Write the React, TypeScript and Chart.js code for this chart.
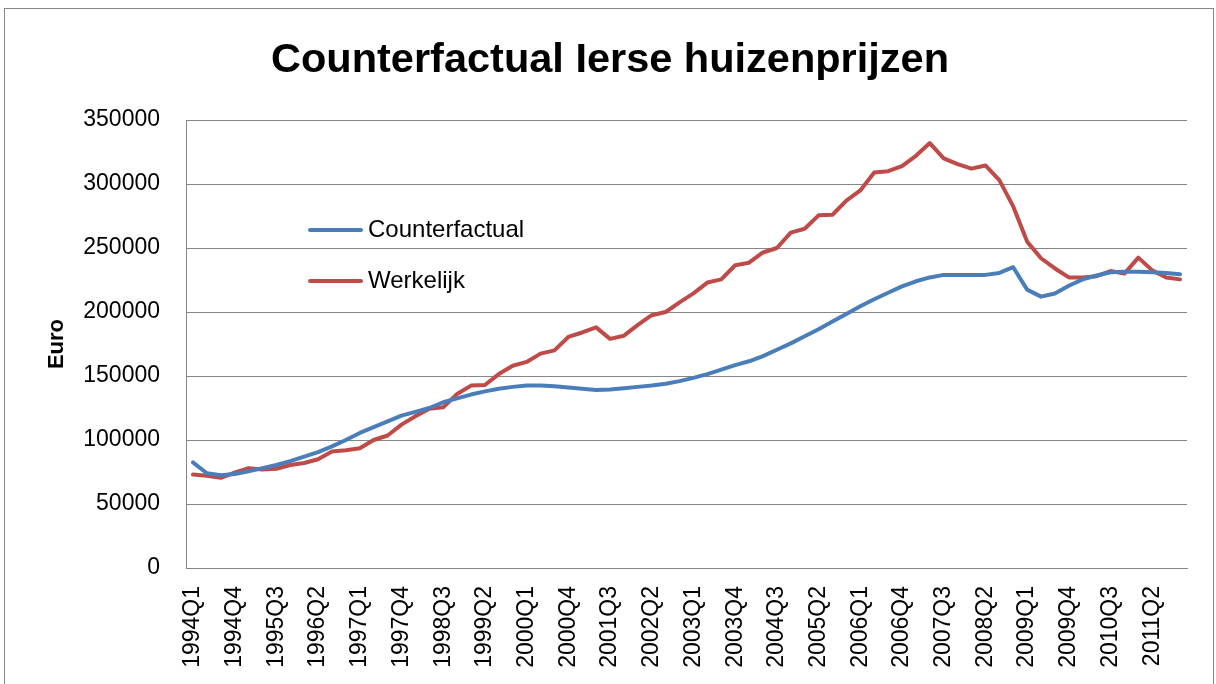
import React, { useEffect, useRef } from "react";
import { Chart, registerables } from "chart.js";

Chart.register(...registerables);

const years = [1994, 1995, 1996, 1997, 1998, 1999, 2000, 2001, 2002, 2003, 2004, 2005, 2006, 2007, 2008, 2009, 2010, 2011];
const quarterNames = ["Q1", "Q2", "Q3", "Q4"];
const categories: string[] = [];
for (const y of years) for (const q of quarterNames) categories.push(`${y}${q}`);

const counterfactual = [
  82500, 74000, 72500, 73500, 75500, 78000, 80500, 83500, 87000, 90500,
  95000, 100000, 105500, 110000, 114500, 119000, 122000, 125000, 129500, 132500,
  135500, 138000, 140000, 141500, 142500, 142500, 142000, 141000, 140000, 139000,
  139500, 140500, 141500, 142500, 144000, 146000, 148500, 151500, 155000, 158500,
  161500, 165500, 170500, 175500, 181000, 186500, 192500, 198500, 204500, 210000,
  215000, 220000, 224000, 227000, 229000, 229000, 229000, 229000, 230500, 235000,
  217500, 212000, 214500, 220500, 225500, 228500, 231000, 231500, 231500, 231000,
  230500, 229500,
];

const werkelijk = [
  73000, 72000, 70500, 74500, 78000, 77000, 77500, 80500, 82000, 85000,
  91000, 92000, 93500, 100000, 103500, 112000, 118500, 124500, 125500, 136000,
  142500, 143000, 151500, 158000, 161000, 167500, 170000, 180500, 184000, 188000,
  179000, 181500, 190000, 197500, 200000, 207500, 214500, 223000, 225500, 236500,
  238500, 246500, 250000, 262000, 265000, 275500, 276000, 287000, 295000, 309000,
  310000, 314000, 322000, 332000, 320000, 315500, 312000, 314500, 303000, 282500,
  255000, 242000, 234000, 227000, 227000, 228000, 232000, 230000, 242500, 232500,
  227000, 225500,
];

const seriesNames = ["Counterfactual", "Werkelijk"];
const seriesColors = ["#4A7EBB", "#BE4B48"];
const chartTitle = "Counterfactual Ierse huizenprijzen";
const yAxisTitle = "Euro";
const yMin = 0;
const yMax = 350000;
const yStep = 50000;
const labelEvery = 3;

const FONT = "'Liberation Sans', Arial, sans-serif";

const decorPlugin = {
  id: "decor",
  beforeDraw(chart: any) {
    const ctx = chart.ctx;
    ctx.save();
    ctx.fillStyle = "#ffffff";
    ctx.fillRect(0, 0, chart.width, chart.height);
    ctx.strokeStyle = "#868686";
    ctx.lineWidth = 1;
    ctx.strokeRect(4.5, 8.5, 1209, 700);
    ctx.restore();
  },
  afterDraw(chart: any) {
    const ctx = chart.ctx;
    ctx.save();
    ctx.fillStyle = "#000000";
    ctx.font = `bold 41.5px ${FONT}`;
    ctx.textAlign = "center";
    ctx.textBaseline = "alphabetic";
    ctx.fillText(chartTitle, 610, 72);

    const ds = chart.data.datasets;
    const ys = [230, 281];
    ds.forEach((d: any, i: number) => {
      const y = ys[i];
      ctx.strokeStyle = d.borderColor;
      ctx.lineWidth = 4;
      ctx.lineCap = "round";
      ctx.beginPath();
      ctx.moveTo(310, y);
      ctx.lineTo(361, y);
      ctx.stroke();
      ctx.fillStyle = "#000000";
      ctx.font = `24px ${FONT}`;
      ctx.textAlign = "left";
      ctx.textBaseline = "middle";
      ctx.fillText(d.label, 368, y);
    });
    ctx.restore();
  },
};

export default function App() {
  const canvasRef = useRef<HTMLCanvasElement | null>(null);

  useEffect(() => {
    document.body.style.margin = "0";
    const canvas = canvasRef.current;
    if (!canvas) return;
    const chart = new Chart(canvas, {
      type: "line",
      data: {
        labels: categories,
        datasets: [
          {
            label: seriesNames[0],
            data: counterfactual,
            borderColor: seriesColors[0],
            backgroundColor: seriesColors[0],
            borderWidth: 4,
            pointRadius: 0,
            tension: 0,
            borderCapStyle: "round",
            borderJoinStyle: "round",
          },
          {
            label: seriesNames[1],
            data: werkelijk,
            borderColor: seriesColors[1],
            backgroundColor: seriesColors[1],
            borderWidth: 4,
            pointRadius: 0,
            tension: 0,
            borderCapStyle: "round",
            borderJoinStyle: "round",
          },
        ],
      },
      options: {
        animation: false,
        responsive: false,
        devicePixelRatio: 1,
        layout: { padding: { left: 0, right: 29, top: 120, bottom: 0 } },
        plugins: {
          legend: { display: false },
          title: { display: false },
          tooltip: { enabled: false },
        },
        scales: {
          x: {
            type: "category",
            offset: true,
            grid: { display: false, drawTicks: false },
            border: { display: true, color: "#868686", width: 1 },
            ticks: {
              autoSkip: false,
              maxRotation: 90,
              minRotation: 90,
              padding: 18,
              color: "#000000",
              font: { family: FONT, size: 23 },
              callback: (_v: any, idx: number) => (idx % labelEvery === 0 ? categories[idx] : ""),
            },
            afterFit: (scale: any) => {
              scale.height = 116;
              scale.paddingLeft = 0;
              scale.paddingRight = 0;
            },
          },
          y: {
            min: yMin,
            max: yMax,
            grid: { color: "#868686", lineWidth: 1, drawTicks: false },
            border: { display: true, color: "#868686", width: 1 },
            ticks: {
              stepSize: yStep,
              padding: 26,
              color: "#000000",
              font: { family: FONT, size: 23 },
              callback: (v: any) => String(v),
            },
            title: {
              display: true,
              text: yAxisTitle,
              color: "#000000",
              font: { family: FONT, size: 22, weight: "bold" },
              padding: { top: 43.5, bottom: 0 },
            },
            afterFit: (scale: any) => {
              scale.width = 186;
            },
          },
        },
      },
      plugins: [decorPlugin],
    });
    return () => chart.destroy();
  }, []);

  return (
    <div style={{ width: 1216, height: 684 }}>
      <canvas ref={canvasRef} width={1216} height={684} style={{ display: "block" }} />
    </div>
  );
}
